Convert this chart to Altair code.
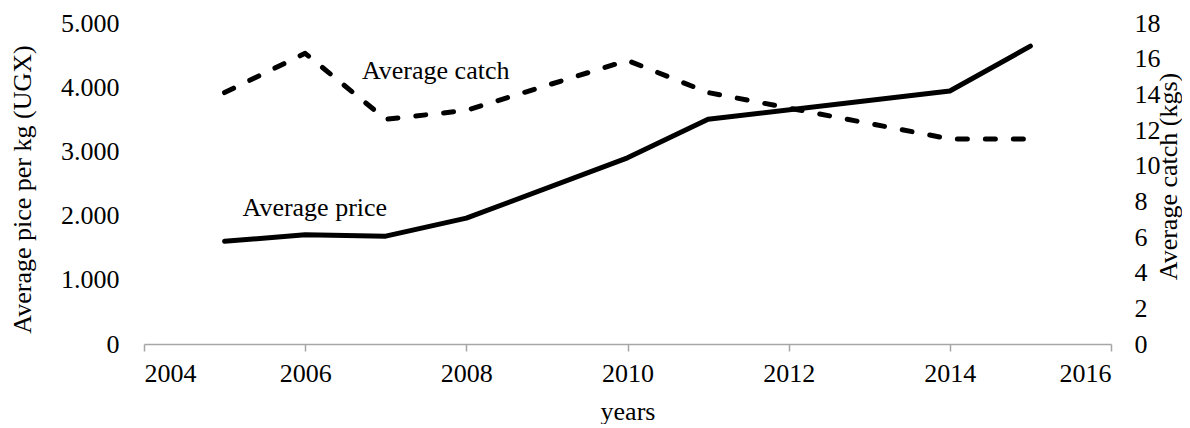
import altair as alt
import pandas as pd

years = [2005, 2006, 2007, 2008, 2010, 2011, 2014, 2015]
avg_price = [1600, 1700, 1680, 1960, 2900, 3500, 3940, 4640]
avg_catch = [14.1, 16.3, 12.6, 13.1, 15.9, 14.1, 11.5, 11.5]

label_text = ["Average catch", "Average price"]
label_year = [2007.62, 2006.12]
label_value = [4250, 2120]

x_ticks = [2004, 2006, 2008, 2010, 2012, 2014, 2016]
price_ticks = [0, 1000, 2000, 3000, 4000, 5000]
catch_ticks = [0, 2, 4, 6, 8, 10, 12, 14, 16, 18]

FONT = "Liberation Serif"
FS = 26
GRAY = "#a6a6a6"

df = pd.DataFrame({"year": years, "price": avg_price, "catch": avg_catch})
lab = pd.DataFrame({"text": label_text, "year": label_year, "value": label_value})

xscale = alt.Scale(domain=[2004, 2016], nice=False, zero=False)
xaxis = alt.Axis(values=x_ticks, format="d", title="years", grid=False,
                 domainColor=GRAY, tickColor=GRAY, tickSize=7, domainWidth=1.5, tickWidth=1.5,
                 labelPadding=9, labelFont=FONT, labelFontSize=FS, labelColor="#000",
                 titleFont=FONT, titleFontSize=FS, titleFontWeight="normal", titleColor="#000",
                 titleBaseline="alphabetic", titleY=75)

price_scale = alt.Scale(domain=[0, 5000], nice=False, zero=True)
catch_scale = alt.Scale(domain=[0, 18], nice=False, zero=True)

price_axis = alt.Axis(values=price_ticks, labelExpr="replace(format(datum.value, ','), ',', '.')",
                      title="Average pice per kg (UGX)", grid=False, domain=False, ticks=False, tickSize=0,
                      labelPadding=25, labelFont=FONT, labelFontSize=FS, labelColor="#000",
                      labelBaseline="middle",
                      titleFont=FONT, titleFontSize=FS, titleFontWeight="normal", titleColor="#000",
                      titleAngle=270, titleX=-122, titleY=166, titleBaseline="middle", titleAlign="center")

catch_axis = alt.Axis(values=catch_ticks, orient="right", title="Average catch (kgs)", grid=False,
                      domain=False, ticks=False, tickSize=0,
                      labelPadding=23, labelFont=FONT, labelFontSize=FS, labelColor="#000",
                      labelBaseline="middle",
                      titleFont=FONT, titleFontSize=FS, titleFontWeight="normal", titleColor="#000",
                      titleAngle=270, titleX=57, titleY=153, titleBaseline="middle", titleAlign="center")

price_line = alt.Chart(df).mark_line(color="#000", strokeWidth=5, strokeJoin="round", strokeCap="round").encode(
    x=alt.X("year:Q", scale=xscale, axis=xaxis),
    y=alt.Y("price:Q", scale=price_scale, axis=price_axis),
)

labels = alt.Chart(lab).mark_text(font=FONT, fontSize=FS, color="#000", align="center", baseline="middle").encode(
    x=alt.X("year:Q", scale=xscale),
    y=alt.Y("value:Q", scale=price_scale),
    text="text:N",
)

left = alt.layer(price_line, labels)

catch_line = alt.Chart(df).mark_line(color="#000", strokeWidth=5, strokeDash=[10, 18], strokeCap="round",
                                     strokeJoin="round").encode(
    x=alt.X("year:Q", scale=xscale),
    y=alt.Y("catch:Q", scale=catch_scale, axis=catch_axis),
)

chart = alt.layer(left, catch_line).resolve_scale(y="independent").properties(
    width=967, height=321,
    autosize=alt.AutoSizeParams(type="none"),
    padding={"left": 136, "top": 15, "right": 71, "bottom": 80},
    background="white",
).configure_view(stroke="transparent")

chart.save("out.html", embed_options={"renderer": "svg", "actions": False})
